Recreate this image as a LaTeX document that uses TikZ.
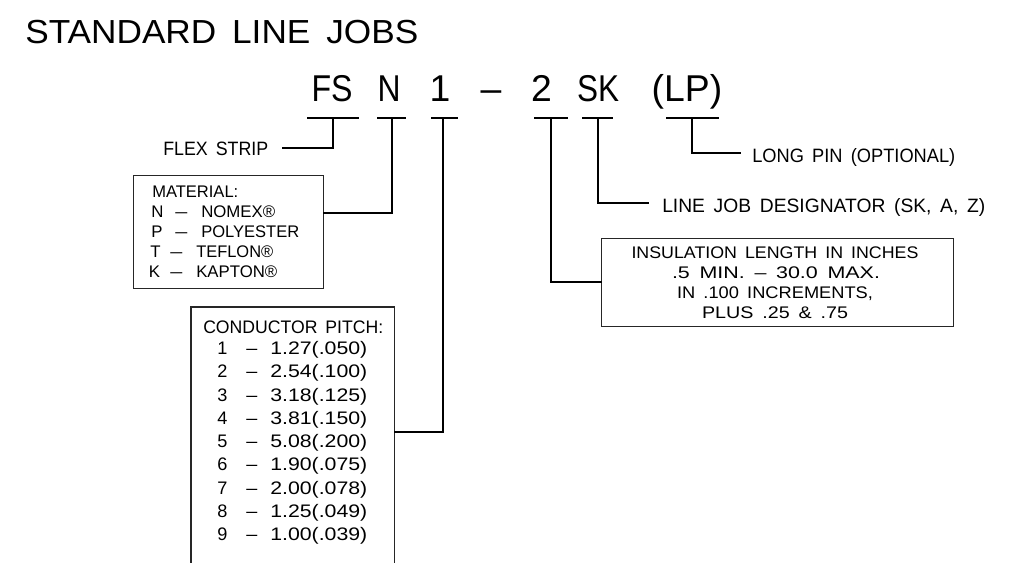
\documentclass[tikz,border=0pt]{standalone}
\usepackage{fontspec}
\setmainfont{Liberation Sans}
\usepackage{graphicx}
\newdimen\pxu \pxu=0.75pt
\newcommand\fw[2]{\resizebox{#1\pxu}{\height}{#2}}
\newcommand\wg{\hspace{0.45em}}
\newcommand\titlef{\fontsize{25}{25}\selectfont}
\newcommand\codef{\fontsize{28}{28}\selectfont}
\newcommand\lblf{\fontsize{14.5}{14.5}\selectfont}
\newcommand\boxf{\fontsize{12.6}{12.6}\selectfont}
\newcommand\condf{\fontsize{13.6}{13.6}\selectfont}
\begin{document}
\begin{tikzpicture}[x=0.75pt,y=-0.75pt,
  txt/.style={inner sep=0pt,anchor=base west},
  ctr/.style={inner sep=0pt,anchor=base},
  conn/.style={line width=1.5pt,line cap=rect},
  boxline/.style={line width=0.8pt,draw=black!85},
  panel/.style={boxline,draw,inner sep=0pt,anchor=north west}]
\useasboundingbox (0,0) rectangle (1017,562);

% title
\node[txt,font=\titlef] (title) at (25,43) {\fw{393}{STANDARD\wg LINE\wg JOBS}};

% code line
\node[ctr,font=\codef] (cFS) at (332,101) {\fw{41}{FS}};
\node[ctr,font=\codef] (cN) at (389,101) {\fw{23}{N}};
\node[ctr,font=\codef] (c1) at (440,101) {1};
\node[ctr,font=\codef] (cdash) at (491,101) {–};
\node[ctr,font=\codef] (c2) at (541.5,101) {2};
\node[ctr,font=\codef] (cSK) at (598,101) {\fw{42}{SK}};
\node[ctr,font=\codef] (cLP) at (687,101) {(LP)};

% bars
\coordinate (fsL) at (308,118); \coordinate (fsR) at (358,118); \coordinate (fsT) at (333,118);
\coordinate (nL) at (378,118);  \coordinate (nR) at (405,118);  \coordinate (nT) at (392,118);
\coordinate (oL) at (432,118);  \coordinate (oR) at (457,118);  \coordinate (oT) at (443,118);
\coordinate (tL) at (535,118);  \coordinate (tR) at (567,118);  \coordinate (tT) at (551,118);
\coordinate (sL) at (583,118);  \coordinate (sR) at (612,118);  \coordinate (sT) at (598,118);
\coordinate (lL) at (667,118);  \coordinate (lR) at (718,118);  \coordinate (lT) at (692,118);
\draw[conn] (fsL) -- (fsR);
\draw[conn] (nL) -- (nR);
\draw[conn] (oL) -- (oR);
\draw[conn] (tL) -- (tR);
\draw[conn] (sL) -- (sR);
\draw[conn] (lL) -- (lR);

% labels
\node[txt,font=\lblf] (flex) at (163,155) {\fw{105}{FLEX\wg STRIP}};
\node[txt,font=\lblf] (lpin) at (752,162) {\fw{203}{LONG\wg PIN\wg (OPTIONAL)}};
\node[txt,font=\lblf] (ljd) at (662,212) {\fw{323}{LINE\wg JOB\wg DESIGNATOR\wg (SK,\wg A,\wg Z)}};

% boxes
\node[panel,minimum width=142.5pt,minimum height=84.75pt] (mat) at (133,175) {};
\node[panel,minimum width=264pt,minimum height=66pt] (ins) at (601,238) {};
\node[inner sep=0pt,anchor=north west,minimum width=152.25pt,minimum height=198.75pt] (cond) at (191,307) {};
\draw[boxline] ([yshift=-6pt]cond.south west) -- (cond.north west) -- (cond.north east) -- ([yshift=-6pt]cond.south east);

% connectors
\coordinate (fsE) at (283,148);
\coordinate (nE) at (mat.east |- 0,213);
\coordinate (oE) at (cond.east |- 0,432);
\coordinate (tE) at (ins.west |- 0,282);
\coordinate (sE) at (648,203);
\coordinate (lE) at (740,153);
\draw[conn] (fsT) |- (fsE);
\draw[conn] (nT) |- (nE);
\draw[conn] (oT) |- (oE);
\draw[conn] (tT) |- (tE);
\draw[conn] (sT) |- (sE);
\draw[conn] (lT) |- (lE);

% material text
\node[txt,font=\boxf] (m0) at (152,197) {\fw{86}{MATERIAL:}};
\node[txt,font=\boxf] (m1a) at (151,217) {N};
\node[txt,font=\boxf] (m1b) at (175,217) {\fw{12}{–}};
\node[txt,font=\boxf] (m1c) at (201,217) {\fw{74}{NOMEX®}};
\node[txt,font=\boxf] (m2a) at (151,237) {P};
\node[txt,font=\boxf] (m2b) at (175,237) {\fw{12}{–}};
\node[txt,font=\boxf] (m2c) at (201,237) {\fw{98}{POLYESTER}};
\node[txt,font=\boxf] (m3a) at (150,257) {T};
\node[txt,font=\boxf] (m3b) at (170,257) {\fw{12}{–}};
\node[txt,font=\boxf] (m3c) at (196,257) {\fw{77}{TEFLON®}};
\node[txt,font=\boxf] (m4a) at (148.5,277) {K};
\node[txt,font=\boxf] (m4b) at (170,277) {\fw{12}{–}};
\node[txt,font=\boxf] (m4c) at (196,277) {\fw{81}{KAPTON®}};

% conductor pitch text
\node[txt,font=\condf] (p0) at (203,333.5) {\fw{180}{CONDUCTOR\wg PITCH:}};
\foreach \d/\v [count=\i from 0] in {1/1.27(.050),2/2.54(.100),3/3.18(.125),4/3.81(.150),5/5.08(.200),6/1.90(.075),7/2.00(.078),8/1.25(.049),9/1.00(.039)}{
  \node[txt,font=\condf] (pd\d) at (217,354.5+23.25*\i) {\d};
  \node[txt,font=\condf] (px\d) at (246,354.5+23.25*\i) {\fw{11}{–}};
  \node[txt,font=\condf] (pv\d) at (270,354.5+23.25*\i) {\fw{97}{\v}};
}

% insulation text
\node[ctr,font=\boxf] (i1) at (775,258) {\fw{287}{INSULATION\wg LENGTH\wg IN\wg INCHES}};
\node[ctr,font=\boxf] (i2) at (776,278) {\fw{208}{.5\wg MIN.\wg –\wg 30.0\wg MAX.}};
\node[ctr,font=\boxf] (i3) at (775,298) {\fw{196}{IN\wg .100\wg INCREMENTS,}};
\node[ctr,font=\boxf] (i4) at (775,318) {\fw{146}{PLUS\wg .25\wg \&\wg .75}};
\end{tikzpicture}
\end{document}
